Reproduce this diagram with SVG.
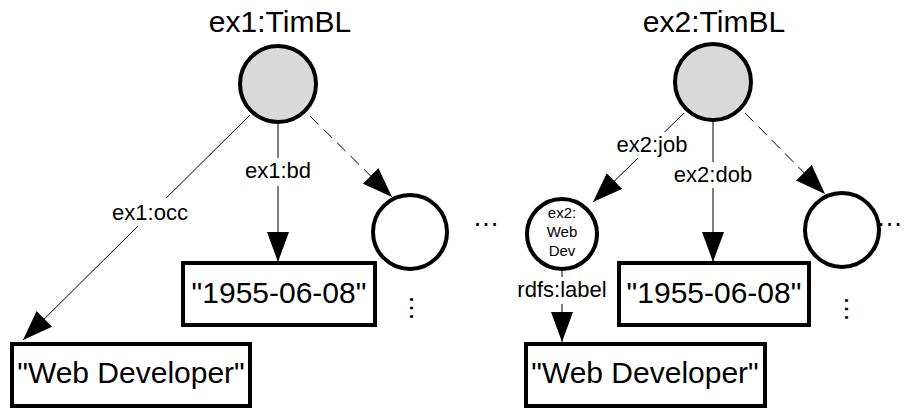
<svg xmlns="http://www.w3.org/2000/svg" width="905" height="410" viewBox="0 0 905 410">
  <style>
    text { font-family: "Liberation Sans", Arial, sans-serif; fill: #000; }
    .title { font-size: 30px; text-anchor: middle; }
    .lit { font-size: 30px; text-anchor: middle; }
    .lbl { font-size: 22px; text-anchor: middle; }
    .small { font-size: 15px; text-anchor: middle; }
    .dots { font-size: 27px; text-anchor: middle; }
    .res { fill: #fff; stroke: #000; stroke-width: 4; }
    .subj { fill: #d9d9d9; stroke: #000; stroke-width: 4; }
    .box { fill: #fff; stroke: #000; stroke-width: 4; }
    .edge { fill: none; stroke: #000; stroke-width: 1; marker-end: url(#arrow); }
    .dash { stroke-dasharray: 12 7; }
    .bg { fill: #fff; }
  </style>
  <defs>
    <marker id="arrow" markerUnits="userSpaceOnUse" markerWidth="30" markerHeight="22" refX="30" refY="11" orient="auto">
      <path d="M0,0 L30,11 L0,22 z" fill="#000"/>
    </marker>
  </defs>
  <rect width="905" height="410" fill="#fff"/>

  <!-- connectors -->
  <g id="edges">
    <line class="edge" x1="250" y1="115" x2="23" y2="340"/>
    <line class="edge" x1="278" y1="122" x2="278" y2="262"/>
    <line class="edge dash" x1="310" y1="116" x2="392" y2="197"/>
    <line class="edge" x1="684" y1="113" x2="593" y2="202"/>
    <line class="edge" x1="713" y1="120" x2="713" y2="262"/>
    <line class="edge dash" x1="745" y1="113" x2="825" y2="194"/>
    <line class="edge" x1="562" y1="271" x2="562" y2="342"/>

    <rect class="bg" x="111" y="198" width="78" height="28"/>
    <text class="lbl" x="150" y="220">ex1:occ</text>
    <rect class="bg" x="242" y="158" width="72" height="28"/>
    <text class="lbl" x="278" y="178">ex1:bd</text>
    <rect class="bg" x="615" y="132" width="74" height="26"/>
    <text class="lbl" x="652" y="152">ex2:job</text>
    <rect class="bg" x="672" y="162" width="82" height="26"/>
    <text class="lbl" x="713" y="182">ex2:dob</text>
    <rect class="bg" x="515" y="277" width="94" height="27"/>
    <text class="lbl" x="562" y="297">rdfs:label</text>
  </g>

  <!-- ex1 graph -->
  <g id="ex1-timbl">
    <text class="title" x="280" y="32">ex1:TimBL</text>
    <circle class="subj" cx="278" cy="84" r="38"/>
  </g>
  <g id="ex1-date">
    <rect class="box" x="183" y="263" width="192" height="62"/>
    <text class="lit" x="279" y="303">"1955-06-08"</text>
  </g>
  <g id="ex1-occupation">
    <rect class="box" x="12" y="344" width="238" height="62"/>
    <text class="lit" x="131" y="383">"Web Developer"</text>
  </g>
  <g id="ex1-other">
    <circle class="res" cx="410" cy="232" r="37"/>
    <text class="dots" transform="translate(412,308) rotate(90)" x="0" y="2">…</text>
  </g>

  <g id="ellipsis-mid">
    <text class="dots" x="486" y="226">…</text>
  </g>

  <!-- ex2 graph -->
  <g id="ex2-timbl">
    <text class="title" x="714" y="32">ex2:TimBL</text>
    <circle class="subj" cx="713" cy="82" r="38"/>
  </g>
  <g id="ex2-webdev">
    <circle class="res" cx="562" cy="234" r="35"/>
    <text class="small" x="562" y="218">ex2:</text>
    <text class="small" x="562" y="237">Web</text>
    <text class="small" x="562" y="256">Dev</text>
  </g>
  <g id="ex2-date">
    <rect class="box" x="619" y="263" width="190" height="62"/>
    <text class="lit" x="714" y="303">"1955-06-08"</text>
  </g>
  <g id="ex2-label">
    <rect class="box" x="526" y="344" width="239" height="62"/>
    <text class="lit" x="645" y="383">"Web Developer"</text>
  </g>
  <g id="ex2-other">
    <circle class="res" cx="842" cy="230" r="37"/>
    <text class="dots" transform="translate(847,309) rotate(90)" x="0" y="2">…</text>
    <text class="dots" x="876" y="226" style="text-anchor:start">…</text>
  </g>
</svg>
